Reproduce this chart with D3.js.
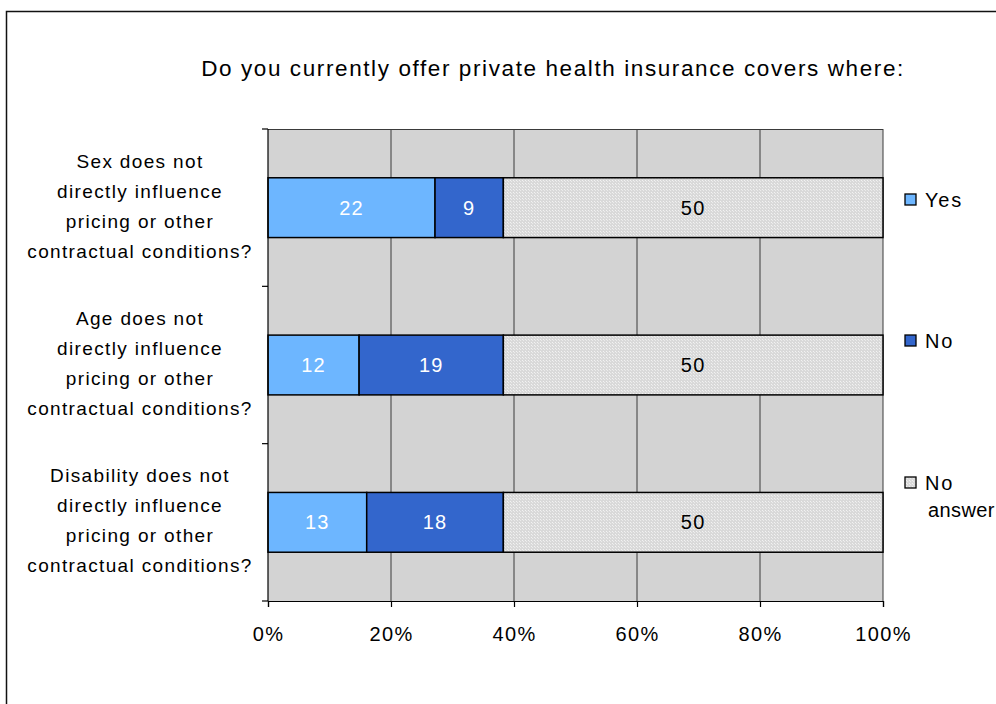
<!DOCTYPE html>
<html>
<head>
<meta charset="utf-8">
<script src="https://cdn.jsdelivr.net/npm/d3@7"></script>
<style>
  html, body { margin: 0; padding: 0; background: #fff; }
  svg { display: block; }
  text { font-family: "Liberation Sans", Arial, sans-serif; }
</style>
</head>
<body>
<svg id="chart" width="996" height="704"></svg>
<script>
const title = "Do you currently offer private health insurance covers where:";
const categories = [
  ["Sex does not", "directly influence", "pricing or other", "contractual conditions?"],
  ["Age does not", "directly influence", "pricing or other", "contractual conditions?"],
  ["Disability does not", "directly influence", "pricing or other", "contractual conditions?"]
];
const seriesNames = ["Yes", "No", "No answer"];
const yesValues = [22, 12, 13];
const noValues = [9, 19, 18];
const noAnswerValues = [50, 50, 50];
const xTicks = [0, 0.2, 0.4, 0.6, 0.8, 1.0];

const seriesValues = [yesValues, noValues, noAnswerValues];
const colors = ["#6db6ff", "#3366cc", "url(#dots)"];
const labelColors = ["#ffffff", "#ffffff", "#000000"];

const svg = d3.select("#chart");
const defs = svg.append("defs");
const pat = defs.append("pattern").attr("id", "dots").attr("patternUnits", "userSpaceOnUse")
  .attr("width", 3).attr("height", 3);
pat.append("rect").attr("width", 3).attr("height", 3).attr("fill", "#d9d9d9");
pat.append("rect").attr("x", 0).attr("y", 0).attr("width", 1).attr("height", 1).attr("fill", "#f2f2f2");
pat.append("rect").attr("x", 1).attr("y", 1).attr("width", 1).attr("height", 1).attr("fill", "#ebebeb");

// outer frame
svg.append("rect").attr("x", 6.5).attr("y", 11.5).attr("width", 1000).attr("height", 720)
  .attr("fill", "none").attr("stroke", "#111").attr("stroke-width", 1.5);

const m = { left: 268, top: 129, right: 883, bottom: 601 };
const x = d3.scaleLinear().domain([0, 1]).range([m.left, m.right]);
const y = d3.scaleBand().domain(d3.range(categories.length)).range([m.top, m.bottom])
  .paddingInner(0.62).paddingOuter(0.31);

// title
svg.append("text").attr("x", 553).attr("y", 76).attr("text-anchor", "middle")
  .style("font-size", "22.5px").style("letter-spacing", "1.6px").attr("fill", "#000").text(title);

// plot background
svg.append("rect").attr("x", m.left).attr("y", m.top).attr("width", m.right - m.left)
  .attr("height", m.bottom - m.top).attr("fill", "#d3d3d3");

// vertical gridlines
svg.append("g").selectAll("line").data(xTicks.slice(1)).join("line")
  .attr("x1", d => x(d)).attr("x2", d => x(d)).attr("y1", m.top).attr("y2", m.bottom)
  .attr("stroke", "#3a3a3a").attr("stroke-width", 1);
svg.append("line").attr("x1", m.left).attr("x2", m.right).attr("y1", m.top + 0.5).attr("y2", m.top + 0.5)
  .attr("stroke", "#3a3a3a").attr("stroke-width", 1);

// stacked bars
const stackData = categories.map((c, i) => {
  const vals = seriesValues.map(s => s[i]);
  const total = d3.sum(vals);
  let acc = 0;
  return vals.map((v, k) => { const x0 = acc / total; acc += v; return { i, k, v, x0, x1: acc / total }; });
});
const segs = stackData.flat();
svg.append("g").selectAll("rect").data(segs).join("rect")
  .attr("x", d => x(d.x0)).attr("y", d => y(d.i))
  .attr("width", d => x(d.x1) - x(d.x0)).attr("height", y.bandwidth())
  .attr("fill", d => colors[d.k]).attr("stroke", "#000").attr("stroke-width", 1.5);
svg.append("g").selectAll("text").data(segs).join("text")
  .attr("x", d => (x(d.x0) + x(d.x1)) / 2).attr("y", d => y(d.i) + y.bandwidth() / 2 + 7)
  .attr("text-anchor", "middle").style("font-size", "20px").style("letter-spacing", "1.2px")
  .attr("fill", d => labelColors[d.k]).text(d => d.v);

// left axis
const yTickPos = d3.range(categories.length + 1).map(i => m.top + i * y.step());
svg.append("line").attr("x1", m.left).attr("x2", m.left).attr("y1", m.top).attr("y2", m.bottom)
  .attr("stroke", "#000").attr("stroke-width", 1.2);
svg.append("g").selectAll("line").data(yTickPos).join("line")
  .attr("x1", m.left - 6).attr("x2", m.left).attr("y1", d => d).attr("y2", d => d)
  .attr("stroke", "#000").attr("stroke-width", 1.2);

// bottom axis
const xAxis = d3.axisBottom(x).tickValues(xTicks).tickFormat(d3.format(".0%")).tickSize(6).tickPadding(20);
const gx = svg.append("g").attr("transform", `translate(0,${m.bottom})`).call(xAxis);
gx.select(".domain").attr("stroke", "#000").attr("stroke-width", 1.2);
gx.selectAll(".tick line").attr("stroke", "#000").attr("stroke-width", 1.2);
gx.selectAll(".tick text").style("font-size", "20px").style("letter-spacing", "1.4px")
  .style("font-family", '"Liberation Sans", Arial, sans-serif').attr("fill", "#000");

// category labels
const catG = svg.append("g");
categories.forEach((lines, i) => {
  const cy = y(i) + y.bandwidth() / 2;
  const t = catG.append("text").attr("text-anchor", "middle").attr("x", 140)
    .style("font-size", "19px").style("letter-spacing", "1.35px").attr("fill", "#000");
  lines.forEach((ln, j) => {
    t.append("tspan").attr("x", 140).attr("y", cy + (j - 1.5) * 30 + 5).text(ln);
  });
});

// legend
const legendY = [200, 341, 483];
const lg = svg.append("g");
seriesNames.forEach((name, k) => {
  lg.append("rect").attr("x", 905).attr("y", legendY[k] - 6).attr("width", 11).attr("height", 11)
    .attr("fill", colors[k]).attr("stroke", "#000").attr("stroke-width", 1.3);
  const words = name.split(" ");
  words.forEach((w, j) => {
    lg.append("text").style("font-size", "20px").style("letter-spacing", j === 0 ? "1.8px" : "0.4px")
      .attr("fill", "#000").attr("x", j === 0 ? 925 : 928).attr("y", legendY[k] + 7 + j * 27).text(w);
  });
});
</script>
</body>
</html>
